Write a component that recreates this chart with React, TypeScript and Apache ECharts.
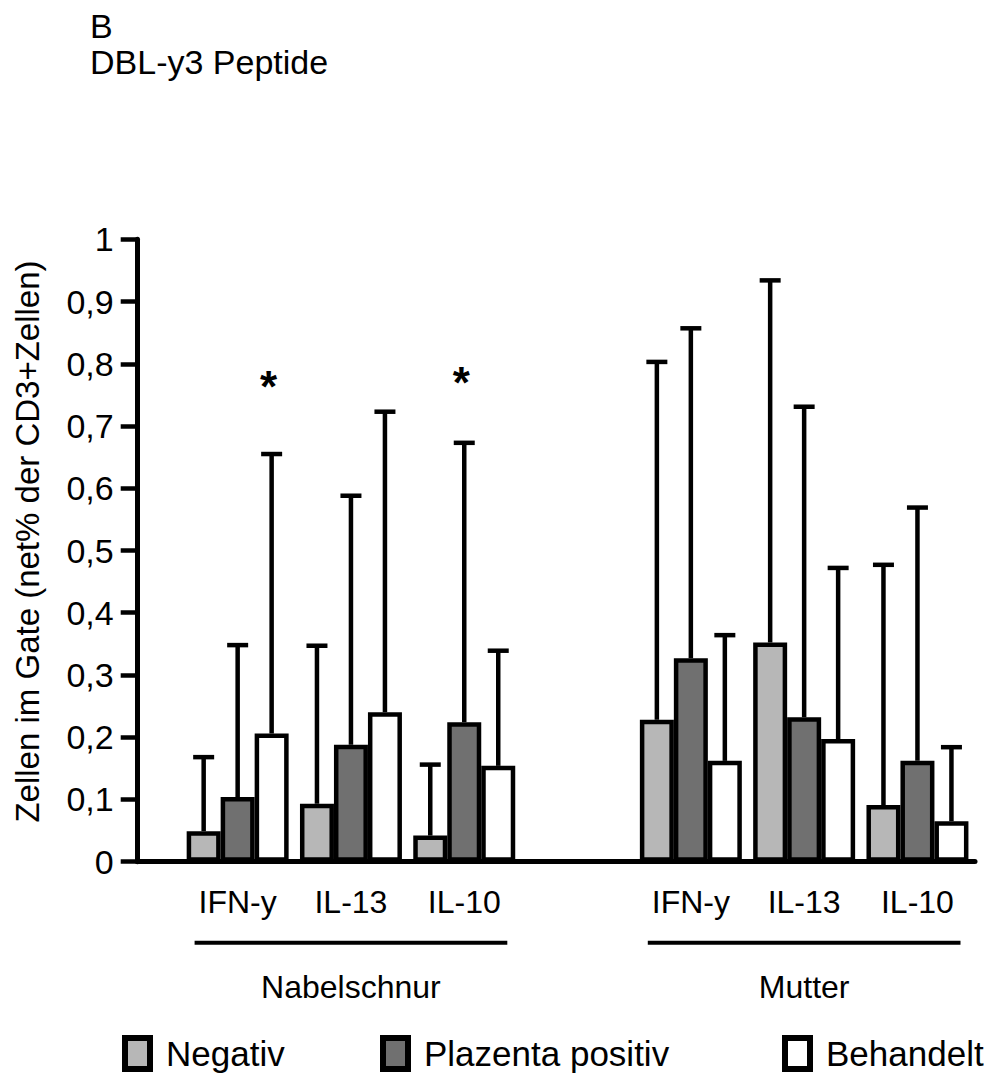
import React, { useEffect, useRef } from 'react';
import * as echarts from 'echarts';

// ---------- data ----------
const groupNames = ['Nabelschnur', 'Mutter'];
const cytokines = ['IFN-y', 'IL-13', 'IL-10'];
// 7 category slots: three cytokines per group with one empty spacer slot between the groups
const categories = [
  ...cytokines.map((c) => `${groupNames[0]}|${c}`),
  '',
  ...cytokines.map((c) => `${groupNames[1]}|${c}`),
];
const seriesNames = ['Negativ', 'Plazenta positiv', 'Behandelt'];

// bar heights (net% der CD3+ Zellen)
const negativ = [0.049, 0.093, 0.042, null, 0.228, 0.352, 0.091];
const plazentaPositiv = [0.104, 0.188, 0.224, null, 0.327, 0.232, 0.162];
const behandelt = [0.206, 0.24, 0.154, null, 0.162, 0.197, 0.065];

// upper end of the error bars
const negativUpper = [0.168, 0.347, 0.156, null, 0.803, 0.934, 0.477];
const plazentaPositivUpper = [0.348, 0.588, 0.673, null, 0.857, 0.731, 0.569];
const behandeltUpper = [0.655, 0.723, 0.339, null, 0.364, 0.472, 0.184];

// significance markers: category slot, series index, value level
const sigCategory = [0, 2];
const sigSeries = [2, 1];
const sigLevel = [0.764, 0.77];

const yMin = 0;
const yMax = 1;
const yInterval = 0.1;

// ---------- styling ----------
const FONT = '"Liberation Sans", Arial, Helvetica, sans-serif';
const colors = ['#b7b7b7', '#707070', '#ffffff'];
const BAR_FRAC = 0.3;

const means = [negativ, plazentaPositiv, behandelt];
const uppers = [negativUpper, plazentaPositivUpper, behandeltUpper];

function buildOption() {
  const middleSlots: Record<number, string> = {};
  middleSlots[Math.floor(cytokines.length / 2)] = groupNames[0];
  middleSlots[cytokines.length + 1 + Math.floor(cytokines.length / 2)] = groupNames[1];

  const barSeries = seriesNames.map((name, k) => ({
    type: 'bar',
    name,
    xAxisIndex: 0,
    yAxisIndex: 0,
    data: means[k],
    barWidth: `${BAR_FRAC * 100}%`,
    barGap: '0%',
    itemStyle: { color: colors[k], borderColor: '#000', borderWidth: 4.5 },
    z: 2,
  }));

  const errSeries = seriesNames.map((name, k) => ({
    type: 'custom',
    name: name + ' SD',
    xAxisIndex: 0,
    yAxisIndex: 0,
    z: 3,
    data: categories
      .map((_, i) => [i, means[k][i], uppers[k][i]])
      .filter((d) => d[1] != null),
    renderItem: (params: any, api: any) => {
      const cat = api.value(0);
      const mean = api.value(1);
      const up = api.value(2);
      const band = api.size([1, 0])[0];
      const barW = band * BAR_FRAC;
      const cx = api.coord([cat, 0])[0] + (k - 1) * barW;
      const yTop = api.coord([cat, up])[1];
      const yBase = api.coord([cat, mean])[1];
      const cap = 10.5;
      return {
        type: 'group',
        children: [
          { type: 'line', shape: { x1: cx, y1: yBase, x2: cx, y2: yTop }, style: { stroke: '#000', lineWidth: 4.5 } },
          { type: 'line', shape: { x1: cx - cap, y1: yTop, x2: cx + cap, y2: yTop }, style: { stroke: '#000', lineWidth: 4.5 } },
        ],
      };
    },
    encode: { x: 0, y: 2 },
    silent: true,
  }));

  const sigSeriesDef = {
    type: 'custom',
    name: 'sig',
    xAxisIndex: 0,
    yAxisIndex: 0,
    z: 4,
    data: sigCategory.map((c, i) => [c, sigLevel[i], sigSeries[i]]),
    encode: { x: 0, y: 1 },
    renderItem: (params: any, api: any) => {
      const cat = api.value(0);
      const lvl = api.value(1);
      const k = api.value(2);
      const band = api.size([1, 0])[0];
      const barW = band * BAR_FRAC;
      const p = api.coord([cat, lvl]);
      return {
        type: 'text',
        x: p[0] + (k - 1) * barW - 3,
        y: p[1],
        style: { text: '*', fontSize: 44, fontWeight: 'bold', fontFamily: FONT, fill: '#000', align: 'center', verticalAlign: 'middle' },
      };
    },
    silent: true,
  };

  const legendBase = {
    orient: 'horizontal',
    padding: 0,
    itemWidth: 25,
    itemHeight: 31,
    icon: 'rect',
    selectedMode: false,
    itemStyle: { borderColor: '#000', borderWidth: 6 },
    textStyle: { fontSize: 35, fontFamily: FONT, color: '#000', padding: [0, 0, 0, 11] },
  };

  return {
    animation: false,
    backgroundColor: '#fff',
    title: {
      text: 'B\nDBL-y3 Peptide',
      left: 85,
      top: 3,
      textStyle: { fontSize: 34, fontWeight: 'normal', fontFamily: FONT, color: '#000', lineHeight: 36 },
    },
    legend: [
      { ...legendBase, data: [seriesNames[0]], left: 122, top: 1035 },
      { ...legendBase, data: [seriesNames[1]], left: 380, top: 1035 },
      { ...legendBase, data: [seriesNames[2]], left: 782, top: 1035 },
    ],
    grid: [
      { left: 181, top: 239.3, width: 793.1, height: 622.4 },
      { left: 137.7, top: 239.3, width: 837.3, height: 622.4 },
    ],
    xAxis: [
      {
        type: 'category',
        gridIndex: 0,
        data: categories,
        position: 'bottom',
        axisLine: { show: false },
        axisTick: { show: false },
        splitLine: { show: false },
        axisLabel: {
          interval: 0,
          margin: 24,
          fontSize: 32,
          fontFamily: FONT,
          color: '#000',
          formatter: (v: string) => (v.split('|')[1] || ''),
        },
      },
      {
        type: 'category',
        gridIndex: 0,
        data: categories,
        position: 'bottom',
        axisLine: { show: false },
        axisTick: { show: false },
        splitLine: { show: false },
        axisLabel: {
          interval: 0,
          margin: 109,
          fontSize: 32,
          fontFamily: FONT,
          color: '#000',
          formatter: (v: string, i: number) => middleSlots[i] || '',
        },
      },
      {
        type: 'value',
        gridIndex: 1,
        min: 0,
        max: 1,
        axisLine: { show: true, lineStyle: { color: '#000', width: 5 } },
        axisTick: { show: false },
        axisLabel: { show: false },
        splitLine: { show: false },
      },
    ],
    yAxis: [
      {
        type: 'value',
        gridIndex: 0,
        min: yMin,
        max: yMax,
        interval: yInterval,
        offset: 43.3,
        axisLine: { show: true, lineStyle: { color: '#000', width: 5 } },
        axisTick: { show: true, length: 17, lineStyle: { color: '#000', width: 4.5 } },
        splitLine: { show: false },
        axisLabel: {
          margin: 24,
          fontSize: 34,
          fontFamily: FONT,
          color: '#000',
          formatter: (v: number) => String(Math.round(v * 10) / 10).replace('.', ','),
        },
        name: 'Zellen im Gate (net% der CD3+Zellen)',
        nameLocation: 'middle',
        nameRotate: 90,
        nameGap: 94,
        nameTextStyle: { fontSize: 33, fontFamily: FONT, color: '#000', padding: [0, 0, 0, 18] },
      },
      { type: 'value', gridIndex: 1, min: 0, max: 1, show: false },
    ],
    series: [...barSeries, ...errSeries, sigSeriesDef],
  };
}

export default function App() {
  const ref = useRef<HTMLDivElement>(null);
  useEffect(() => {
    if (!ref.current) return;
    const chart = echarts.init(ref.current, null, { renderer: 'svg' });
    chart.setOption(buildOption() as any);

    // bracket lines under the cytokine labels, placed through the axis scales
    const px = (i: number) => chart.convertToPixel({ xAxisIndex: 0 }, categories[i]) as number;
    const band = px(1) - px(0);
    const y0 = chart.convertToPixel({ yAxisIndex: 0 }, 0) as number;
    const lineY = y0 + 81;
    const ext = band * 0.38;
    const n = cytokines.length;
    const lines = [
      [px(0) - ext, px(n - 1) + ext],
      [px(n + 1) - ext, px(2 * n) + ext],
    ].map(([a, b]) => ({
      type: 'line',
      shape: { x1: a, y1: lineY, x2: b, y2: lineY },
      style: { stroke: '#000', lineWidth: 4 },
      silent: true,
    }));
    chart.setOption({ graphic: lines } as any);

    return () => chart.dispose();
  }, []);
  return (
    <div
      ref={ref}
      style={{ position: 'absolute', left: 0, top: 0, width: 984, height: 1075, background: '#fff' }}
    />
  );
}
